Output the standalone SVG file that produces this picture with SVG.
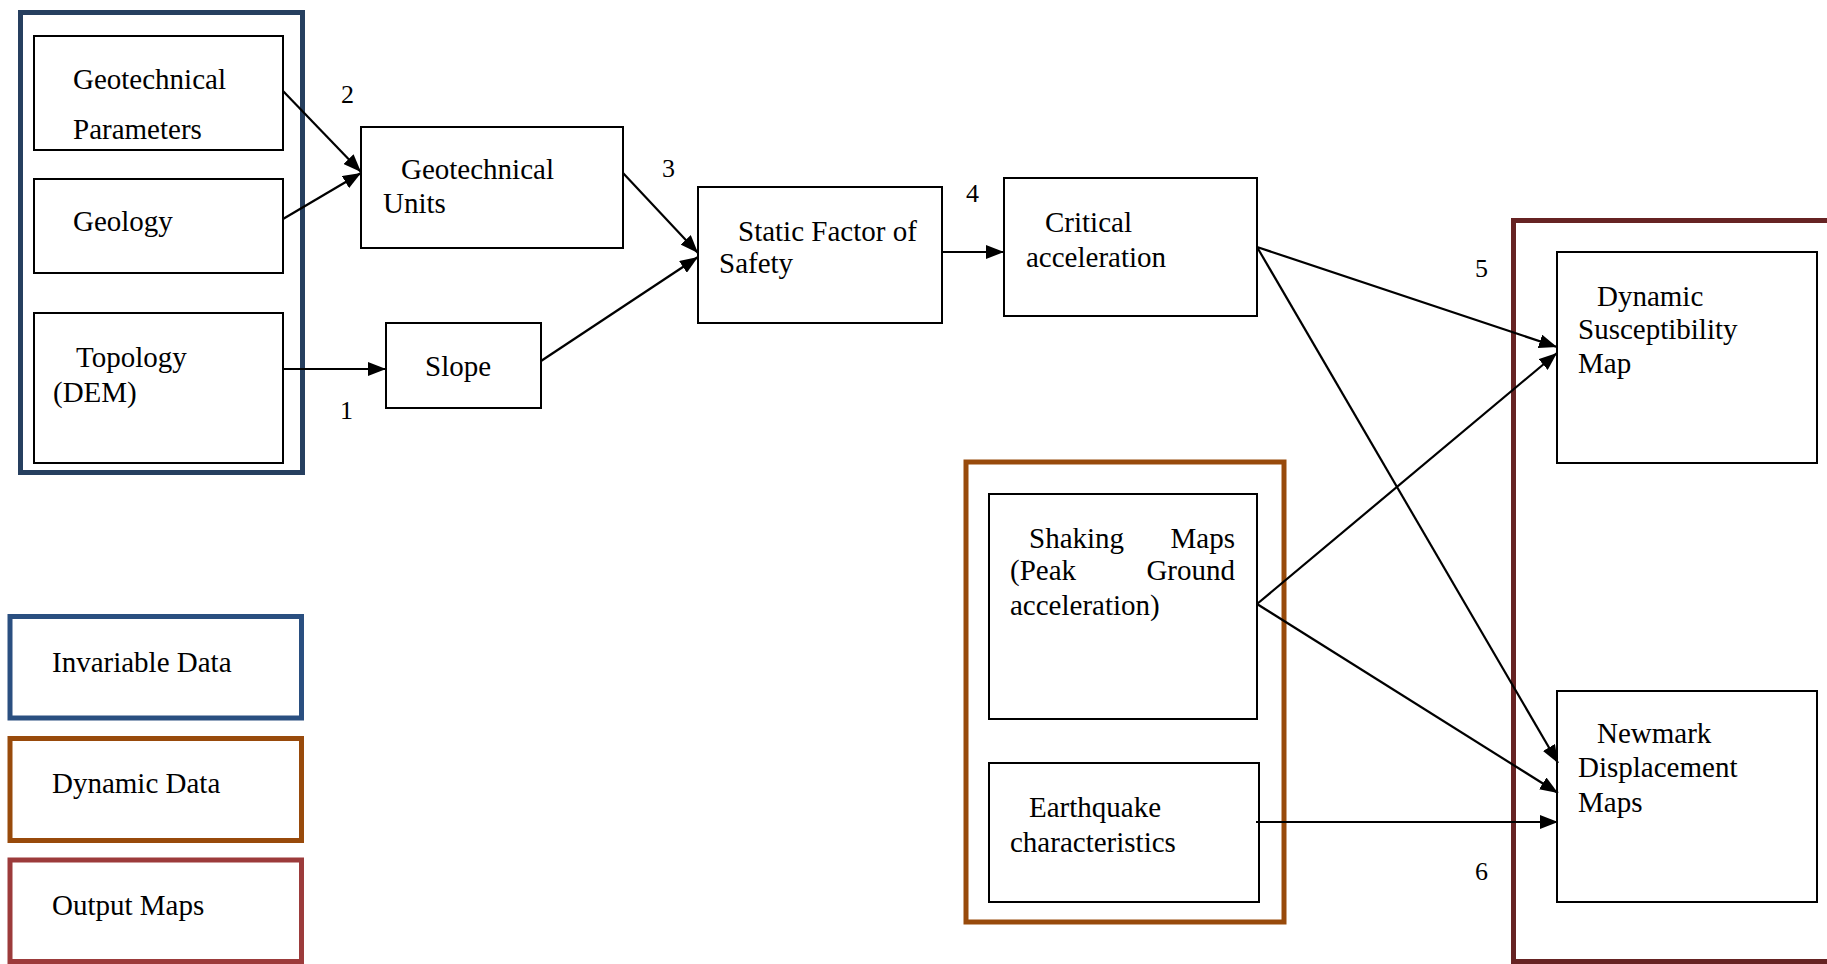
<svg xmlns="http://www.w3.org/2000/svg" width="1827" height="964" viewBox="0 0 1827 964">
<style>
  .box { fill: none; stroke: #000; stroke-width: 2; }
  .blue { fill: none; stroke: #263f5f; stroke-width: 5; }
  .lblue { fill: none; stroke: #2a4f80; stroke-width: 5; }
  .brown { fill: none; stroke: #984a0b; stroke-width: 5; }
  .dred { fill: none; stroke: #662323; stroke-width: 5; }
  .lred { fill: none; stroke: #9c3b3b; stroke-width: 5; }
  .conn { fill: none; stroke: #000; stroke-width: 2.2; }
  text { font-family: "Liberation Serif", "Times New Roman", serif; font-size: 29px; fill: #000; }
  .num { font-size: 26px; }
</style>
<defs>
  <marker id="arr" markerUnits="userSpaceOnUse" markerWidth="18" markerHeight="14" refX="18" refY="7" orient="auto">
    <path d="M0,0 L18,7 L0,14 z" fill="#000"/>
  </marker>
</defs>
<rect width="1827" height="964" fill="#fff"/>

<g id="group-invariable">
  <rect class="blue" x="20.5" y="12.5" width="282" height="460"/>
</g>
<g id="group-dynamic">
  <rect class="brown" x="966" y="462" width="318" height="460"/>
</g>
<g id="group-output">
  <rect class="dred" x="1513.5" y="220.5" width="320" height="741"/>
</g>

<g id="node-geotech-params">
  <rect class="box" x="34" y="36" width="249" height="114"/>
  <text x="73" y="89">Geotechnical</text>
  <text x="73" y="139">Parameters</text>
</g>
<g id="node-geology">
  <rect class="box" x="34" y="179" width="249" height="94"/>
  <text x="73" y="231">Geology</text>
</g>
<g id="node-topology">
  <rect class="box" x="34" y="313" width="249" height="150"/>
  <text x="76" y="367">Topology</text>
  <text x="53" y="402">(DEM)</text>
</g>
<g id="node-geotech-units">
  <rect class="box" x="361" y="127" width="262" height="121"/>
  <text x="401" y="179">Geotechnical</text>
  <text x="383" y="213">Units</text>
</g>
<g id="node-slope">
  <rect class="box" x="386" y="323" width="155" height="85"/>
  <text x="425" y="376">Slope</text>
</g>
<g id="node-static">
  <rect class="box" x="698" y="187" width="244" height="136"/>
  <text x="738" y="241">Static Factor of</text>
  <text x="719" y="273">Safety</text>
</g>
<g id="node-critical">
  <rect class="box" x="1004" y="178" width="253" height="138"/>
  <text x="1045" y="232">Critical</text>
  <text x="1026" y="267">acceleration</text>
</g>
<g id="node-shaking">
  <rect class="box" x="989" y="494" width="268" height="225"/>
  <text x="1029" y="548">Shaking</text>
  <text x="1235" y="548" text-anchor="end">Maps</text>
  <text x="1010" y="580">(Peak</text>
  <text x="1235" y="580" text-anchor="end">Ground</text>
  <text x="1010" y="615">acceleration)</text>
</g>
<g id="node-earthquake">
  <rect class="box" x="989" y="763" width="270" height="139"/>
  <text x="1029" y="817">Earthquake</text>
  <text x="1010" y="852">characteristics</text>
</g>
<g id="node-dynamic-map">
  <rect class="box" x="1557" y="252" width="260" height="211"/>
  <text x="1597" y="306">Dynamic</text>
  <text x="1578" y="339">Susceptibility</text>
  <text x="1578" y="373">Map</text>
</g>
<g id="node-newmark">
  <rect class="box" x="1557" y="691" width="260" height="211"/>
  <text x="1597" y="743">Newmark</text>
  <text x="1578" y="777">Displacement</text>
  <text x="1578" y="812">Maps</text>
</g>

<g id="legend-invariable">
  <rect class="lblue" x="10" y="616.5" width="291.5" height="101.5"/>
  <text x="52" y="672">Invariable Data</text>
</g>
<g id="legend-dynamic">
  <rect class="brown" x="10" y="738.5" width="291.5" height="102"/>
  <text x="52" y="793">Dynamic Data</text>
</g>
<g id="legend-output">
  <rect class="lred" x="10" y="860" width="291.5" height="101.5"/>
  <text x="52" y="915">Output Maps</text>
</g>

<g id="connectors">
  <line class="conn" x1="283" y1="369" x2="386" y2="369" marker-end="url(#arr)"/>
  <line class="conn" x1="283" y1="91" x2="361" y2="172" marker-end="url(#arr)"/>
  <line class="conn" x1="283" y1="219" x2="361" y2="173" marker-end="url(#arr)"/>
  <line class="conn" x1="623" y1="173" x2="698" y2="253" marker-end="url(#arr)"/>
  <line class="conn" x1="541" y1="361" x2="698" y2="257" marker-end="url(#arr)"/>
  <line class="conn" x1="942" y1="252" x2="1004" y2="252" marker-end="url(#arr)"/>
  <line class="conn" x1="1257" y1="247" x2="1557" y2="347" marker-end="url(#arr)"/>
  <line class="conn" x1="1257" y1="247" x2="1558" y2="763" marker-end="url(#arr)"/>
  <line class="conn" x1="1257" y1="604" x2="1557" y2="353" marker-end="url(#arr)"/>
  <line class="conn" x1="1257" y1="604" x2="1558" y2="793" marker-end="url(#arr)"/>
  <line class="conn" x1="1256" y1="822" x2="1558" y2="822" marker-end="url(#arr)"/>
  <text class="num" x="340" y="419">1</text>
  <text class="num" x="341" y="103">2</text>
  <text class="num" x="662" y="177">3</text>
  <text class="num" x="966" y="202">4</text>
  <text class="num" x="1475" y="277">5</text>
  <text class="num" x="1475" y="880">6</text>
</g>
</svg>
